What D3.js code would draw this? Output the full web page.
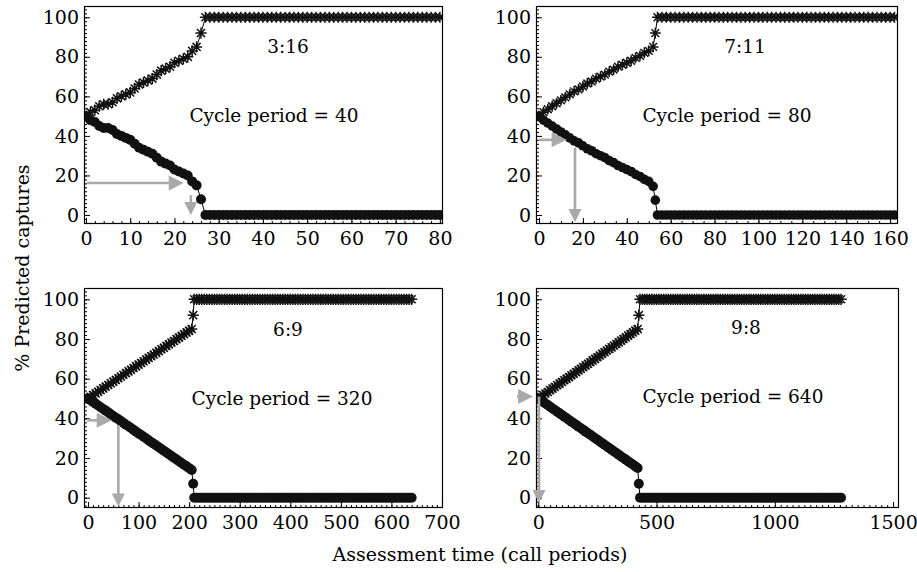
<!DOCTYPE html>
<html><head><meta charset="utf-8">
<script src="https://cdn.jsdelivr.net/npm/d3@7"></script>
<style>body{margin:0;background:#fff} svg{display:block} text{font-family:"DejaVu Serif",serif}</style>
</head><body><svg id="c" width="917" height="572"></svg>
<script>
// ---------------- data ----------------
const ratioLabels = ["3:16", "7:11", "6:9", "9:8"];
const cyclePeriods = [40, 80, 320, 640];
const yTicks = [0, 20, 40, 60, 80, 100];
const xTicks1 = [0, 10, 20, 30, 40, 50, 60, 70, 80];
const xTicks2 = [0, 20, 40, 60, 80, 100, 120, 140, 160];
const xTicks3 = [0, 100, 200, 300, 400, 500, 600, 700];
const xTicks4 = [0, 500, 1000, 1500];
const xMinorSteps = [2, 5, 10, 25];

// Panel 1 (3:16)
const times1 = d3.range(0, 81, 1);
const up1 = [50,52,53,55,56,56,57,59,60,61,62,64,66,67,68,69,71,73,74,75,77,78,79,80,83,85,92,
  100,100,100,100,100,100,100,100,100,100,100,100,100,100,100,100,100,100,
  100,100,100,100,100,100,100,100,100,100,100,100,100,100,100,100,100,100,
  100,100,100,100,100,100,100,100,100,100,100,100,100,100,100,100,100,100];
const down1 = [50,48,47,45,44,44,43,41,40,39,38,36,34,33,32,31,29,27,26,25,23,22,21,20,17,15,8,
  0,0,0,0,0,0,0,0,0,0,0,0,0,0,0,0,0,0,
  0,0,0,0,0,0,0,0,0,0,0,0,0,0,0,0,0,0,
  0,0,0,0,0,0,0,0,0,0,0,0,0,0,0,0,0,0];

// Panel 2 (7:11)
const times2 = [...d3.range(0, 53, 2), 53, ...d3.range(54, 163, 2)];
const up2 = [50,52,53.5,55,56.5,58,59.5,61,62.5,63.5,65,66.5,67.5,69,70,71,72.5,73.5,75,76,77,78,79.5,80.5,82,83,85,
  92,
  100,100,100,100,100,100,100,100,100,100,100,100,100,100,100,100,100,100,100,
  100,100,100,100,100,100,100,100,100,100,100,100,100,100,100,100,100,100,
  100,100,100,100,100,100,100,100,100,100,100,100,100,100,100,100,100,100];
const down2 = [50,48,46.5,45,43.5,42,40.5,39,37.5,36.5,35,33.5,32.5,31,30,29,27.5,26.5,25,24,23,22,20.5,19.5,18,17,14.5,
  7.5,
  0,0,0,0,0,0,0,0,0,0,0,0,0,0,0,0,0,0,0,
  0,0,0,0,0,0,0,0,0,0,0,0,0,0,0,0,0,0,
  0,0,0,0,0,0,0,0,0,0,0,0,0,0,0,0,0,0];

// Panel 3 (6:9)
const times3 = [...d3.range(0, 206, 5), 208, ...d3.range(210, 641, 5)];
const up3 = [50,50.9,51.7,52.6,53.4,54.3,55.1,56.0,56.8,57.7,
  58.5,59.4,60.2,61.1,62.0,62.8,63.7,64.5,65.4,66.2,
  67.1,67.9,68.8,69.6,70.5,71.3,72.2,73.0,73.9,74.8,
  75.6,76.5,77.3,78.2,79.0,79.9,80.7,81.6,82.4,83.3,
  84.1,85.0,
  92,
  100,100,100,100,100,100,100,100,100,100,
  100,100,100,100,100,100,100,100,100,100,
  100,100,100,100,100,100,100,100,100,100,
  100,100,100,100,100,100,100,100,100,100,
  100,100,100,100,100,100,100,100,100,100,
  100,100,100,100,100,100,100,100,100,100,
  100,100,100,100,100,100,100,100,100,100,
  100,100,100,100,100,100,100,100,100,100,
  100,100,100,100,100,100,100];
const down3 = [50,49.1,48.2,47.4,46.5,45.6,44.7,43.9,43.0,42.1,
  41.2,40.3,39.5,38.6,37.7,36.8,36.0,35.1,34.2,33.3,
  32.4,31.6,30.7,29.8,28.9,28.0,27.2,26.3,25.4,24.5,
  23.7,22.8,21.9,21.0,20.1,19.3,18.4,17.5,16.6,15.8,
  14.9,14.0,
  7,
  0,0,0,0,0,0,0,0,0,0,
  0,0,0,0,0,0,0,0,0,0,
  0,0,0,0,0,0,0,0,0,0,
  0,0,0,0,0,0,0,0,0,0,
  0,0,0,0,0,0,0,0,0,0,
  0,0,0,0,0,0,0,0,0,0,
  0,0,0,0,0,0,0,0,0,0,
  0,0,0,0,0,0,0,0,0,0,
  0,0,0,0,0,0,0];

// Panel 4 (9:8)
const times4 = [...d3.range(0, 421, 10), 425, ...d3.range(430, 1281, 10)];
const up4 = [50,50.8,51.7,52.5,53.3,54.2,55.0,55.8,56.7,57.5,
  58.3,59.2,60.0,60.8,61.7,62.5,63.3,64.2,65.0,65.8,
  66.7,67.5,68.3,69.2,70.0,70.8,71.7,72.5,73.3,74.2,
  75.0,75.8,76.7,77.5,78.3,79.2,80.0,80.8,81.7,82.5,
  83.3,84.2,85.0,
  92,
  100,100,100,100,100,100,100,100,100,100,
  100,100,100,100,100,100,100,100,100,100,
  100,100,100,100,100,100,100,100,100,100,
  100,100,100,100,100,100,100,100,100,100,
  100,100,100,100,100,100,100,100,100,100,
  100,100,100,100,100,100,100,100,100,100,
  100,100,100,100,100,100,100,100,100,100,
  100,100,100,100,100,100,100,100,100,100,
  100,100,100,100,100,100];
const down4 = [50,49.2,48.3,47.5,46.7,45.8,45.0,44.2,43.3,42.5,
  41.7,40.8,40.0,39.2,38.3,37.5,36.7,35.8,35.0,34.2,
  33.3,32.5,31.7,30.8,30.0,29.2,28.3,27.5,26.7,25.8,
  25.0,24.2,23.3,22.5,21.7,20.8,20.0,19.2,18.3,17.5,
  16.7,15.8,15.0,
  7,
  0,0,0,0,0,0,0,0,0,0,
  0,0,0,0,0,0,0,0,0,0,
  0,0,0,0,0,0,0,0,0,0,
  0,0,0,0,0,0,0,0,0,0,
  0,0,0,0,0,0,0,0,0,0,
  0,0,0,0,0,0,0,0,0,0,
  0,0,0,0,0,0,0,0,0,0,
  0,0,0,0,0,0,0,0,0,0,
  0,0,0,0,0,0];

// annotation arrows: horizontal [y, startX (null = axis), tipX]; vertical [x, startY, tipY]
const arrowsH = [[16.2, null, 22.1], [38, null, 12.6], [39, null, 47], [51, -90, -22]];
const arrowsV = [[23.7, 10, 0], [16.4, 34, -3.5], [60, 36.6, -4.5], [3, 51, -2.7]];

// ---------------- layout ----------------
const panels = [
  {times: times1, up: up1, down: down1, xTicks: xTicks1, left: 84, right: 443, top: 6, bottom: 224, xd: [-0.45, 80.7], yd: [-4.55, 105.7],
   lab: [288, 53], cyc: [274, 122], mr: 5},
  {times: times2, up: up2, down: down2, xTicks: xTicks2, left: 536, right: 898, top: 6, bottom: 224, xd: [-1.37, 163.6], yd: [-4.55, 105.7],
   lab: [745, 53], cyc: [727, 122], mr: 4.8},
  {times: times3, up: up3, down: down3, xTicks: xTicks3, left: 84, right: 443, top: 288, bottom: 508, xd: [-7.9, 702], yd: [-5.2, 105.7],
   lab: [288, 336], cyc: [282, 405], mr: 5},
  {times: times4, up: up4, down: down4, xTicks: xTicks4, left: 536, right: 899, top: 288, bottom: 508, xd: [-9.7, 1525], yd: [-5.2, 105.7],
   lab: [746, 334], cyc: [733, 403], mr: 5}
];

const svg = d3.select("#c");
const FONT = "DejaVu Serif";
const GRAY = "#a9a9a9";

panels.forEach((p, i) => {
  const g = svg.append("g");
  const x = d3.scaleLinear().domain(p.xd).range([p.left, p.right]);
  const y = d3.scaleLinear().domain(p.yd).range([p.bottom, p.top]);

  const clipId = "clip" + i;
  svg.append("clipPath").attr("id", clipId).append("rect")
    .attr("x", p.left).attr("y", p.top).attr("width", p.right - p.left).attr("height", p.bottom - p.top);

  const style = s => { s.select(".domain").remove(); s.attr("font-family", FONT).attr("font-size", 19).selectAll("text").attr("fill", "#000"); };

  const minorX = d3.range(0, p.xd[1], xMinorSteps[i]);
  g.append("g").attr("transform", `translate(0,${p.bottom})`)
    .call(d3.axisBottom(x).tickValues(minorX).tickSize(-3).tickFormat("")).call(style);
  g.append("g").attr("transform", `translate(0,${p.bottom})`)
    .call(d3.axisBottom(x).tickValues(p.xTicks).tickSize(-6).tickPadding(8).tickFormat(d3.format("d"))).call(style);
  g.append("g").attr("transform", `translate(${p.left},0)`)
    .call(d3.axisLeft(y).tickValues(d3.range(-4, 106, 2)).tickSize(-3).tickFormat("")).call(style);
  g.append("g").attr("transform", `translate(${p.left},0)`)
    .call(d3.axisLeft(y).tickValues(yTicks).tickSize(-6).tickPadding(5)).call(style);

  const dg = g.append("g").attr("clip-path", `url(#${clipId})`);
  const n = Math.min(p.times.length, p.up.length, p.down.length);
  const upPts = p.times.slice(0, n).map((t, k) => [t, p.up[k]]);
  const dnPts = p.times.slice(0, n).map((t, k) => [t, p.down[k]]);
  const line = d3.line().x(d => x(d[0])).y(d => y(d[1]));
  dg.append("path").attr("d", line(dnPts)).attr("fill", "none").attr("stroke", "#000").attr("stroke-width", 1);
  dg.append("path").attr("d", line(upPts)).attr("fill", "none").attr("stroke", "#000").attr("stroke-width", 1);
  dg.selectAll("circle").data(dnPts).join("circle")
    .attr("cx", d => x(d[0])).attr("cy", d => y(d[1])).attr("r", p.mr).attr("fill", "#111");
  const r = p.mr + 0.6, k = r * 0.72;
  const star = `M${-r},0H${r}M0,${-r}V${r}M${-k},${-k}L${k},${k}M${-k},${k}L${k},${-k}`;
  dg.selectAll("path.star").data(upPts).join("path").attr("class", "star")
    .attr("transform", d => `translate(${x(d[0])},${y(d[1])})`)
    .attr("d", star).attr("fill", "none").attr("stroke", "#111").attr("stroke-width", 1.5);

  // frame
  g.append("rect").attr("x", p.left + 0.5).attr("y", p.top + 0.5)
    .attr("width", p.right - p.left - 1).attr("height", p.bottom - p.top - 1)
    .attr("fill", "none").attr("stroke", "#000").attr("stroke-width", 1.2);

  // arrows
  const ah = arrowsH[i], av = arrowsV[i];
  const hl = 15, hw = 7.5;
  {
    const yy = y(ah[0]);
    const xs = ah[1] === null ? p.left + 3 : x(ah[1]);
    const xt = x(ah[2]);
    if (xt - hl > xs) g.append("line").attr("x1", xs).attr("x2", xt - hl + 1).attr("y1", yy).attr("y2", yy)
      .attr("stroke", GRAY).attr("stroke-width", 2.6);
    g.append("path").attr("d", `M${xt},${yy}L${xt - hl},${yy - hw}L${xt - hl},${yy + hw}Z`).attr("fill", GRAY);
  }
  {
    const xx = x(av[0]);
    const ys = y(av[1]), yt = y(av[2]);
    const vl = 13, vw = 6.5;
    if (yt - vl > ys) g.append("line").attr("x1", xx).attr("x2", xx).attr("y1", ys).attr("y2", yt - vl + 1)
      .attr("stroke", GRAY).attr("stroke-width", 2.6);
    g.append("path").attr("d", `M${xx},${yt}L${xx - vw},${yt - vl}L${xx + vw},${yt - vl}Z`).attr("fill", GRAY);
  }

  // labels
  g.append("text").attr("x", p.lab[0]).attr("y", p.lab[1]).attr("text-anchor", "middle")
    .attr("font-size", 18.5).attr("font-family", FONT).text(ratioLabels[i]);
  g.append("text").attr("x", p.cyc[0]).attr("y", p.cyc[1]).attr("text-anchor", "middle")
    .attr("font-size", 18.5).attr("font-family", FONT).text(`Cycle period = ${cyclePeriods[i]}`);
});

svg.append("text").attr("x", 480).attr("y", 561).attr("text-anchor", "middle")
  .attr("font-size", 19).attr("font-family", FONT).text("Assessment time (call periods)");
svg.append("text").attr("transform", "translate(29,268) rotate(-90)").attr("text-anchor", "middle")
  .attr("font-size", 19).attr("font-family", FONT).text("% Predicted captures");
</script></body></html>
